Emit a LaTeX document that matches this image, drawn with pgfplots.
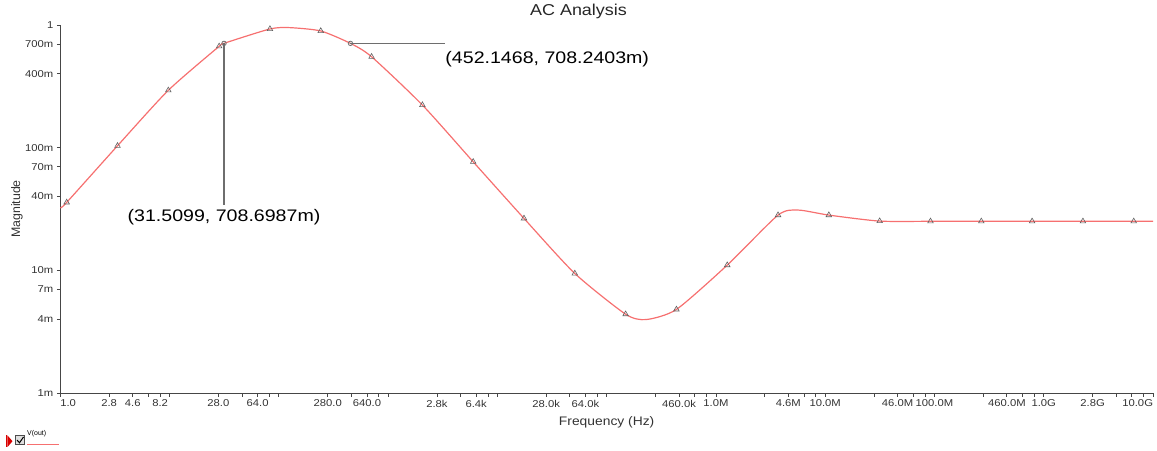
\documentclass[border=0pt]{standalone}
\usepackage{fontspec}
\setmainfont{Liberation Sans}
\usepackage{graphicx}
\usepackage{pgfplots}
\pgfplotsset{compat=1.18}

\definecolor{trace}{RGB}{246,112,112}
\definecolor{axgray}{RGB}{70,70,70}
\definecolor{curs}{RGB}{110,110,110}
% the source picture is stretched a little sideways
\newcommand\sx[1]{\scalebox{1.13}[1]{#1}}

\begin{document}
\begin{tikzpicture}
\begin{axis}[
  name=ax, at={(0,0)}, anchor=south west,
  scale only axis, width=1092.7bp, height=368bp,
  xmode=log, ymode=log,
  xmin=1, xmax=1e10, ymin=1e-3, ymax=1,
  axis lines=left, axis line style={axgray, line width=1bp, -},
  tick align=outside, major tick length=3.5bp,
  tick style={axgray, line width=0.8bp},
  xminorticks=false, yminorticks=false,
  xtick={1,2.8,4.6,8.2,28,64,280,640,2800,6400,28000,64000,460000,1e6,4.6e6,1e7,4.6e7,1e8,4.6e8,1e9,2.8e9,1e10},
  xticklabels={{\makebox[0pt][l]{\sx{1.0}}},\sx{2.8},\sx{4.6},\sx{8.2},\sx{28.0},\sx{64.0},\sx{280.0},\sx{640.0},
    \sx{2.8k},\sx{6.4k},\sx{28.0k},\sx{64.0k},\sx{460.0k},\sx{1.0M},\sx{4.6M},\sx{10.0M},\sx{46.0M},\sx{100.0M},
    \sx{460.0M},\sx{1.0G},\sx{2.8G},{\makebox[0pt][r]{\sx{10.0G}}}},
  extra x ticks={6.4,10,46,82,100,460,820,1000,4600,8200,1e4,4.6e4,8.2e4,1e5,2.8e5,6.4e5,8.2e5,
    2.8e6,6.4e6,8.2e6,2.8e7,6.4e7,8.2e7,2.8e8,6.4e8,8.2e8,4.6e9,6.4e9,8.2e9},
  extra x tick labels={},
  ytick={0.001,0.004,0.007,0.01,0.04,0.07,0.1,0.4,0.7,1},
  yticklabels={\sx{1m},\sx{4m},\sx{7m},\sx{10m},\sx{40m},\sx{70m},\sx{100m},\sx{400m},\sx{700m},\sx{1}},
  tick label style={font=\fontsize{10}{12}\selectfont, text=black!80},
  xlabel={\scalebox{1.12}[1]{Frequency (Hz)}}, ylabel={Magnitude},
  label style={font=\fontsize{12.4}{14}\selectfont, text=black!80},
  xlabel style={at={(axis description cs:0.5,-0.0807)}, anchor=center},
  ylabel style={at={(axis description cs:-0.0396,0.5)}, anchor=center},
  clip=false,
]
  % V(out) trace
  \addplot[trace, line width=1.2bp, smooth, tension=0.4] coordinates {
    (1,0.0323) (1.144,0.0358) (3.339,0.1036) (9.74,0.2934) (28.42,0.670)
    (31.51,0.7087) (82.9,0.928) (125,0.952) (241.9,0.894) (452.1,0.7082)
    (705.9,0.551) (2059,0.2226) (6006,0.0767) (17520,0.0265) (51120,0.00943)
    (149100,0.00439) (230000,0.00397) (435100,0.0048) (1.269e6,0.01103)
    (3.703e6,0.0282) (5.65e6,0.0310) (1.080e7,0.0282) (3.152e7,0.0252)
    (9.196e7,0.0251) (2.683e8,0.0251) (7.827e8,0.0251) (2.284e9,0.0251)
    (6.662e9,0.0251) (1e10,0.0251)};
  % trace markers
  \addplot[only marks, mark=triangle, mark size=3.2bp,
    mark options={draw=gray!75!black, line width=0.6bp}] coordinates {
    (1.144,0.0358) (3.339,0.1036) (9.74,0.2934) (28.42,0.670) (82.9,0.928)
    (241.9,0.894) (705.9,0.551) (2059,0.2226) (6006,0.0767) (17520,0.0265)
    (51120,0.00943) (149100,0.00439) (435100,0.0048) (1.269e6,0.01103)
    (3.703e6,0.0282) (1.080e7,0.0282) (3.152e7,0.0252) (9.196e7,0.0251)
    (2.683e8,0.0251) (7.827e8,0.0251) (2.284e9,0.0251) (6.662e9,0.0251)};
  % cursors
  \addplot[only marks, mark=o, mark size=2.2bp,
    mark options={draw=curs, line width=0.8bp}] coordinates {
    (31.5099,0.7087) (452.1468,0.7082)};
  \draw[curs, line width=1.1bp] (axis cs:31.5099,0.7087) -- (axis cs:31.5099,0.034)
    node[anchor=north, text=black, inner sep=0pt, yshift=-4bp, font=\fontsize{16.8}{18}\selectfont]
    {\scalebox{1.17}[1]{(31.5099, 708.6987m)}};
  \draw[curs, line width=1.1bp] (axis cs:452.1468,0.7082) -- (axis cs:3310,0.7082)
    node[anchor=north west, text=black, inner sep=0pt, yshift=-7bp, font=\fontsize{16.8}{18}\selectfont]
    {\scalebox{1.17}[1]{(452.1468, 708.2403m)}};
\end{axis}
\begin{scope}[shift={(ax.south west)}, xshift=-60.3bp, yshift=393bp, x=1bp, y=-1bp]
  \node[font=\fontsize{15.8}{18}\selectfont, text=black!85] at (578.5,11.7)
    {\scalebox{1.14}[1]{AC Analysis}};
  % legend
  \fill[red!85!black] (6,435.5) rectangle (7.5,447);
  \fill[red!85!black] (7.5,435.5) -- (12.5,441.2) -- (7.5,447) -- cycle;
  \draw[gray!60!black, fill=gray!25, line width=0.6bp] (15.5,435.5) rectangle (24.5,444.5);
  \draw[black, line width=1bp] (17,440) -- (19.5,442.8) -- (23.5,437);
  \node[anchor=south west, inner sep=0pt, font=\fontsize{7}{8}\selectfont] at (27,437.5) {V(out)};
  \draw[trace, line width=1bp] (27,445) -- (59,445);
  \pgfresetboundingbox
  \path (0,0) rectangle (1157,451);
\end{scope}
\end{tikzpicture}
\end{document}
